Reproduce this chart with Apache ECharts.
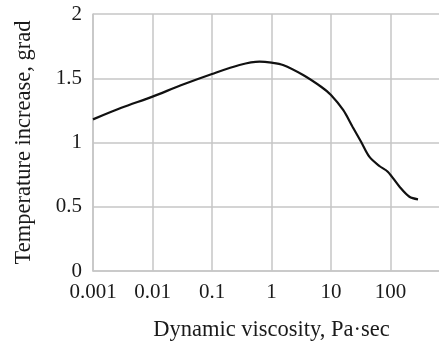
<!DOCTYPE html>
<html>
<head>
<meta charset="utf-8">
<script src="https://cdn.jsdelivr.net/npm/echarts@6/dist/echarts.min.js"></script>
<style>
  html, body { margin: 0; padding: 0; background: #fff; }
  #chart { width: 439px; height: 341px; }
</style>
</head>
<body>
<div id="chart"></div>
<script>
// viscosity (Pa·sec) and temperature increase (grad)
const viscosity = [0.001, 0.003, 0.01, 0.03, 0.1, 0.29, 0.63, 1, 1.56, 3.4, 7, 10, 16, 23, 32, 44, 65, 90, 142, 208, 290];
const tempRise = [1.18, 1.27, 1.357, 1.445, 1.533, 1.603, 1.629, 1.621, 1.603, 1.525, 1.43, 1.37, 1.253, 1.123, 1.006, 0.89, 0.817, 0.773, 0.656, 0.578, 0.558];
const yTicks = [0, 0.5, 1, 1.5, 2];
const xTickLabels = ['0.001', '0.01', '0.1', '1', '10', '100'];

const font = 'Liberation Serif';
const gridColor = '#c6c6c6';
const textColor = '#1a1a1a';

const chart = echarts.init(document.getElementById('chart'), null, { renderer: 'canvas' });

chart.setOption({
  animation: false,
  grid: { left: 93, width: 357, top: 14, height: 257, outerBoundsMode: 'none', containLabel: false },
  xAxis: {
    type: 'log',
    logBase: 10,
    min: 0.001,
    max: 1000,
    name: 'Dynamic viscosity, Pa·sec',
    nameLocation: 'middle',
    nameGap: 48,
    nameTextStyle: { fontFamily: font, fontSize: 22.5, color: textColor },
    axisLine: { show: true, lineStyle: { color: gridColor, width: 1.5 } },
    axisTick: { show: false },
    axisLabel: {
      fontFamily: font, fontSize: 21, color: textColor, margin: 11,
      formatter: v => {
        const i = Math.round(Math.log10(v)) + 3;
        return xTickLabels[i] || '';
      }
    },
    splitLine: { show: true, lineStyle: { color: gridColor, width: 1.5 } },
    minorTick: { show: false },
    minorSplitLine: { show: false }
  },
  yAxis: {
    type: 'value',
    min: yTicks[0],
    max: yTicks[yTicks.length - 1],
    interval: 0.5,
    name: 'Temperature increase, grad',
    nameLocation: 'middle',
    nameGap: 57,
    nameRotate: 90,
    nameTextStyle: { fontFamily: font, fontSize: 22.5, color: textColor },
    axisLine: { show: true, lineStyle: { color: gridColor, width: 1.5 } },
    axisTick: { show: false },
    axisLabel: { fontFamily: font, fontSize: 21, color: textColor, margin: 11 },
    splitLine: { show: true, lineStyle: { color: gridColor, width: 1.5 } }
  },
  series: [{
    type: 'line',
    data: viscosity.map((v, i) => [v, tempRise[i]]),
    smooth: 0.3,
    showSymbol: false,
    lineStyle: { color: '#111', width: 2.2 }
  }]
});
</script>
</body>
</html>
